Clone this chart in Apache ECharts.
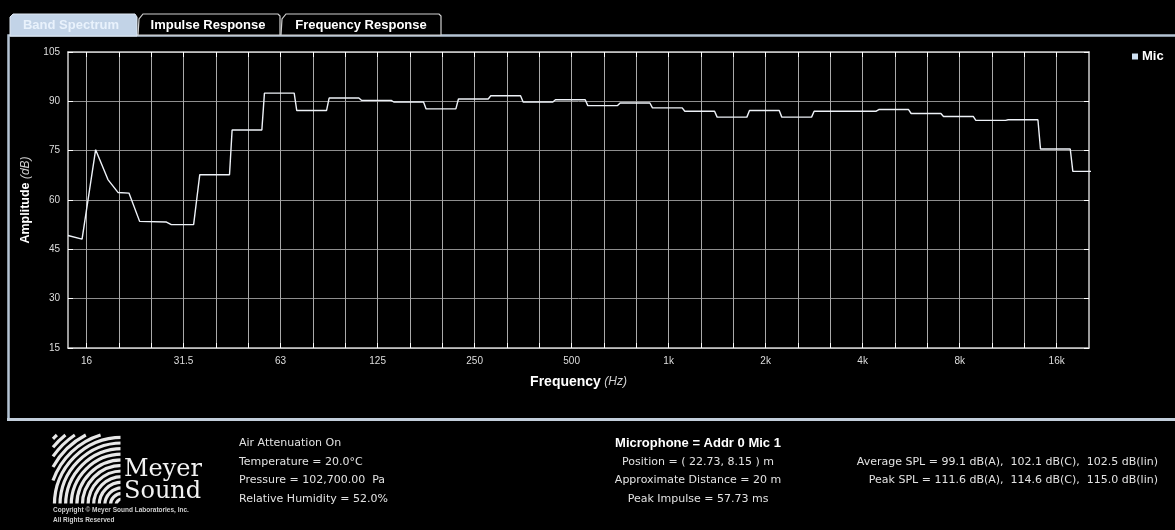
<!DOCTYPE html>
<html><head><meta charset="utf-8">
<script src="https://cdn.jsdelivr.net/npm/echarts@6/dist/echarts.min.js"></script>
<style>html,body{margin:0;padding:0;background:#000;overflow:hidden}#c{width:1175px;height:530px;}</style>
</head><body><div id="c"></div>
<script>
// Third-octave band names (axis units: band index, 16 Hz = 0)
const bands = ['16','20','25','31.5','40','50','63','80','100','125','160','200','250','315','400','500','630','800','1k','1.25k','1.6k','2k','2.5k','3.15k','4k','5k','6.3k','8k','10k','12.5k','16k','20k'];
const gridBands = ['16','20','25','31.5','40','50','63','80','100','125','160','200','250','315','400','500','630','800','1k','1.25k','1.6k','2k','2.5k','3.15k','4k','5k','6.3k','8k','10k','12.5k','16k'];
const labelBands = ['16','31.5','63','125','250','500','1k','2k','4k','8k','16k'];
// Low-frequency part (sparse FFT bins), [band position, dB]
const lowCurvePos = [-0.575, -0.14, 0.28, 0.66, 0.97, 1.31, 1.64, 2.47, 2.62, 3.31];
const lowCurveDb  = [49.2, 48.1, 75.3, 66.2, 62.3, 62.1, 53.5, 53.3, 52.5, 52.5];
// Band levels from 40 Hz to 20 kHz (dB)
const stepFirstBand = '40';
const stepLevels = [67.7, 81.3, 92.5, 87.2, 91.0, 90.3, 89.8, 87.7, 90.7, 91.7, 89.8, 90.5, 88.7, 89.5, 88.0, 87.0, 85.2, 87.2, 85.2, 87.0, 87.0, 87.5, 86.3, 85.4, 84.2, 84.4, 75.5, 68.7];
const yMin = 15, yMax = 105, yStep = 15;
const seriesName = 'Mic';

const infoLeft = ['Air Attenuation On', 'Temperature = 20.0\u00B0C', 'Pressure = 102,700.00  Pa', 'Relative Humidity = 52.0%'];
const infoMidTitle = 'Microphone = Addr 0 Mic 1';
const infoMid = ['Position = ( 22.73, 8.15 ) m', 'Approximate Distance = 20 m', 'Peak Impulse = 57.73 ms'];
const infoRight = ['Average SPL = 99.1 dB(A),  102.1 dB(C),  102.5 dB(lin)', 'Peak SPL = 111.6 dB(A),  114.6 dB(C),  115.0 dB(lin)'];

const data = [];
lowCurvePos.forEach((p, k) => data.push([p, lowCurveDb[k]]));
const first = bands.indexOf(stepFirstBand);
stepLevels.forEach((L, k) => { const i = first + k; data.push([i - 0.5, L]); data.push([i + 0.42, L]); });

const tickIdx = gridBands.map(b => bands.indexOf(b));
const labelIdx = labelBands.map(b => bands.indexOf(b));

const F = "'Liberation Sans', Arial, sans-serif";
const INFO = "'DejaVu Sans', Verdana, sans-serif";
const NARROW = "'Liberation Sans Narrow', 'Arial Narrow', 'Liberation Sans', sans-serif";

const g = [];
// panel border
g.push({type:'polyline', z:1, shape:{points:[[8.5,420],[8.5,35.5],[1185,35.5]]}, style:{stroke:'#b4c3d4', lineWidth:2.5, fill:null}});
g.push({type:'line', z:1, shape:{x1:7, y1:419.5, x2:1185, y2:419.5}, style:{stroke:'#c2cedb', lineWidth:3}});
// tabs
g.push({type:'polygon', z:2, shape:{points:[[10,36],[10,17],[13,14],[135,14],[137,17],[137,36]]}, style:{fill:'#c2d3e7', stroke:'#dfe8f2', lineWidth:1}});
g.push({type:'polygon', z:2, shape:{points:[[138,35],[139,19],[143,14],[278,14],[280,16],[280,35]]}, style:{fill:'#000', stroke:'#d0d0d0', lineWidth:1.2}});
g.push({type:'polygon', z:2, shape:{points:[[281,35],[282,19],[286,14],[439,14],[441,16],[441,35]]}, style:{fill:'#000', stroke:'#d0d0d0', lineWidth:1.2}});
const tabText = (t, x, col) => ({type:'text', z:3, x:x, y:25, style:{text:t, fill:col, font:'bold 13px '+F, align:'center', verticalAlign:'middle', textAlign:'center', textVerticalAlign:'middle'}});
g.push(tabText('Band Spectrum', 71, '#e9f2fc'));
g.push(tabText('Impulse Response', 208, '#ffffff'));
g.push(tabText('Frequency Response', 361, '#ffffff'));

// logo stripes: concentric arcs clipped to a square
const cx = 122, cy = 505, x0 = 53, y0 = 435;
for (let k = 0; k < 17; k++) {
  const r = 6 + k * 5.6;
  let a1 = 0, a2 = Math.PI / 2;
  if (r > cx - x0) a1 = Math.acos((cx - x0) / r);
  if (r > cy - y0) a2 = Math.asin((cy - y0) / r);
  if (a1 >= a2) continue;
  g.push({type:'arc', z:2, shape:{cx:cx, cy:cy, r:r, startAngle:Math.PI + a1, endAngle:Math.PI + a2, clockwise:true}, style:{stroke:'#e8e8e8', lineWidth:3.2, fill:null}});
}
g.push({type:'rect', z:2, shape:{x:120.5, y:430, width:4, height:80}, style:{fill:'#000'}});
g.push({type:'rect', z:2, shape:{x:45, y:503.5, width:80, height:6}, style:{fill:'#000'}});
const LOGO = "24px 'DejaVu Serif', 'Liberation Serif', serif";
g.push({type:'text', z:3, x:124, y:482, style:{text:'Meyer', fill:'#f2f2f2', font:LOGO, align:'left', verticalAlign:'bottom', textAlign:'left', textVerticalAlign:'bottom'}});
g.push({type:'text', z:3, x:124, y:504, style:{text:'Sound', fill:'#f2f2f2', font:LOGO, align:'left', verticalAlign:'bottom', textAlign:'left', textVerticalAlign:'bottom'}});
g.push({type:'text', z:3, x:53, y:510, style:{text:'Copyright \u00A9 Meyer Sound Laboratories, Inc.', fill:'#cfcfcf', font:"bold 6.5px "+F, align:'left', verticalAlign:'middle', textAlign:'left', textVerticalAlign:'middle'}});
g.push({type:'text', z:3, x:53, y:520, style:{text:'All Rights Reserved', fill:'#cfcfcf', font:"bold 6.5px "+F, align:'left', verticalAlign:'middle', textAlign:'left', textVerticalAlign:'middle'}});

const infoY = [443.5, 462, 480.5, 499];
infoLeft.forEach((t, k) => g.push({type:'text', z:3, x:239, y:infoY[k], style:{text:t, fill:'#e2e2e2', font:'11px '+INFO, align:'left', verticalAlign:'middle', textAlign:'left', textVerticalAlign:'middle'}}));
g.push({type:'text', z:3, x:698, y:infoY[0], style:{text:infoMidTitle, fill:'#ffffff', font:'bold 13px '+F, align:'center', verticalAlign:'middle', textAlign:'center', textVerticalAlign:'middle'}});
infoMid.forEach((t, k) => g.push({type:'text', z:3, x:698, y:infoY[k+1], style:{text:t, fill:'#e2e2e2', font:'11px '+INFO, align:'center', verticalAlign:'middle', textAlign:'center', textVerticalAlign:'middle'}}));
infoRight.forEach((t, k) => g.push({type:'text', z:3, x:1158, y:infoY[k+1], style:{text:t, fill:'#e2e2e2', font:'11px '+INFO, align:'right', verticalAlign:'middle', textAlign:'right', textVerticalAlign:'middle'}}));

const chart = echarts.init(document.getElementById('c'), null, {renderer:'canvas'});
const xCommon = {
  type:'value', min:-0.575, max:bands.length - 1,
  axisLine:{show:true, onZero:false, lineStyle:{color:'#cfcfcf', width:1.5}},
  axisTick:{show:true, inside:true, length:5, customValues:tickIdx, lineStyle:{color:'#ffffff', width:1}},
};
const yCommon = {
  type:'value', min:yMin, max:yMax, interval:yStep,
  axisLine:{show:true, onZero:false, lineStyle:{color:'#cfcfcf', width:1.5}},
  axisTick:{show:true, inside:true, length:5, lineStyle:{color:'#ffffff', width:1}},
};
chart.setOption({
  backgroundColor:'#000',
  animation:false,
  graphic:{elements:g},
  legend:{data:[seriesName], left:1132, top:50, padding:0, icon:'rect', itemWidth:6, itemHeight:6, itemGap:5,
    textStyle:{color:'#ffffff', fontWeight:'bold', fontSize:13, fontFamily:F, padding:[0,0,0,-1]}},
  grid:{left:68, top:52, right:86, bottom:182, containLabel:false, outerBoundsMode:'none'},
  xAxis:[
    Object.assign({}, xCommon, {position:'bottom',
      splitLine:{show:true, lineStyle:{color:'#a9a9a9', width:1}},
      axisLabel:{show:true, customValues:labelIdx, formatter:v => bands[Math.round(v)], color:'#dedede', fontSize:10, fontFamily:F, margin:8},
      name:'{b|Frequency} {i|(Hz)}', nameLocation:'middle', nameGap:27,
      nameTextStyle:{rich:{b:{fontWeight:'bold', fontSize:14, color:'#ffffff', fontFamily:F}, i:{fontStyle:'italic', fontSize:12, color:'#cfcfcf', fontFamily:F}}}
    }),
    Object.assign({}, xCommon, {position:'top', splitLine:{show:false}, axisLabel:{show:false}})
  ],
  yAxis:[
    Object.assign({}, yCommon, {position:'left',
      splitLine:{show:true, lineStyle:{color:'#8e8e8e', width:1}},
      axisLabel:{show:true, color:'#dedede', fontSize:10, fontFamily:NARROW, margin:8},
      name:'{b|Amplitude} {i|(dB)}', nameLocation:'middle', nameRotate:90, nameGap:35,
      nameTextStyle:{rich:{b:{fontWeight:'bold', fontSize:12.5, color:'#ffffff', fontFamily:F}, i:{fontStyle:'italic', fontSize:12, color:'#cfcfcf', fontFamily:F}}}
    }),
    Object.assign({}, yCommon, {position:'right', splitLine:{show:false}, axisLabel:{show:false}})
  ],
  series:[{
    name:seriesName, type:'line', xAxisIndex:0, yAxisIndex:0, data:data,
    showSymbol:false, symbol:'none', clip:true,
    itemStyle:{color:'#cfe0f2'},
    lineStyle:{color:'#eef2f8', width:1.4}
  }]
});
</script></body></html>
